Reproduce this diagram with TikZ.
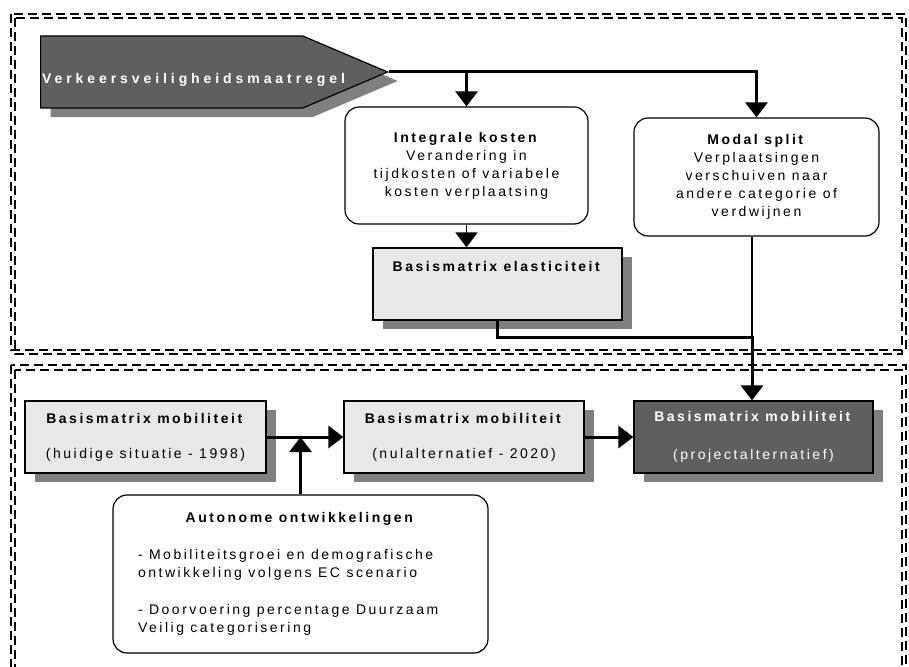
\documentclass[tikz,border=0pt]{standalone}
\usepackage{fontspec}
\setmainfont{Liberation Sans}[LetterSpace=18]
\usetikzlibrary{shapes.symbols,shadows,arrows.meta}
\definecolor{donker}{RGB}{95,95,95}
\definecolor{schaduw}{RGB}{128,128,128}
\definecolor{licht}{RGB}{232,232,232}
\tikzset{
  kader/.style={dash pattern=on 9pt off 5pt, line width=1.8pt},
  schaduwtje/.style={drop shadow={shadow xshift=10pt, shadow yshift=-9pt, fill=schaduw, opacity=1}},
  blok/.style={draw, line width=1.2pt, fill=licht, minimum width=240pt, minimum height=72pt, align=center, inner sep=0pt, schaduwtje},
  donkerblok/.style={blok, fill=donker, text=white},
  wolk/.style={draw, line width=1.2pt, rounded corners=14pt, fill=white, align=center, inner sep=0pt},
  pijl/.style={-{Triangle[length=15pt,width=22pt]}},
  dik/.style={line width=3pt, pijl},
  dun/.style={line width=1.5pt}
}
\begin{document}
\begin{tikzpicture}[x=1pt, y=-1pt, font=\fontsize{14pt}{18pt}\selectfont]
\useasboundingbox (0,0) rectangle (909,666);
\clip (0,0) rectangle (909,666);
\draw[kader] (11,14) rectangle (906,350);
\draw[kader] (15,18) rectangle (902,354);
\draw[kader] (11,365) rectangle (906,690);
\draw[kader] (15,370) rectangle (902,690);
\node[signal, signal to=east, signal pointer angle=46, draw, line width=1.2pt, fill=donker, minimum width=347pt, minimum height=72pt, anchor=west, schaduwtje] (maatregel) at (40,72) {};
\node[anchor=base west, inner sep=0pt, text=white] (maatregeltekst) at (42,84) {\addfontfeature{LetterSpace=28}\textbf{Verkeersveiligheidsmaatregel}};
\node[wolk, minimum width=243pt, minimum height=117pt] (integrale) at (466.5,165.5) {\textbf{Integrale kosten}\\Verandering in\\tijdkosten of variabele\\kosten verplaatsing};
\node[wolk, minimum width=245pt, minimum height=118pt] (modal) at (756.5,177) {\textbf{Modal split}\\Verplaatsingen\\verschuiven naar\\andere categorie of\\verdwijnen};
\node[blok, minimum width=249pt] (elasticiteit) at (497.5,284) {\textbf{Basismatrix elasticiteit}\\[17pt]\mbox{}};
\node[blok, minimum width=241pt] (mob1) at (145.5,437) {\textbf{Basismatrix mobiliteit}\\[17pt](huidige situatie - 1998)};
\node[blok] (mob2) at (464,437) {\textbf{Basismatrix mobiliteit}\\[17pt](nulalternatief - 2020)};
\node[donkerblok, minimum width=239pt] (mob3) at (753.5,437) {\textbf{Basismatrix mobiliteit}\\[20pt](projectalternatief)};
\node[wolk, minimum width=375pt, minimum height=158pt, align=left] (autonoom) at (300.5,574) {\makebox[325pt]{\textbf{Autonome ontwikkelingen}}\\[19pt]
- Mobiliteitsgroei en demografische\\
ontwikkeling volgens EC scenario\\[19pt]
- Doorvoering percentage Duurzaam\\
Veilig categorisering};
\coordinate (samen) at (752,337);
\draw[dik] (maatregel.east) -| (modal.north);
\draw[dik] (maatregel.east -| integrale.north) -- (integrale.north);
\draw[dun, pijl] (integrale.south) -- (integrale.south |- elasticiteit.north);
\draw[dun] (samen |- modal.south) -- (samen);
\draw[dik] (elasticiteit.south) |- (samen) -- (samen |- mob3.north);
\draw[dik] (mob1) -- (mob2);
\draw[dik] (mob2) -- (mob3);
\draw[dik] (autonoom.north) -- (autonoom.north |- mob1.east);
\end{tikzpicture}
\end{document}
